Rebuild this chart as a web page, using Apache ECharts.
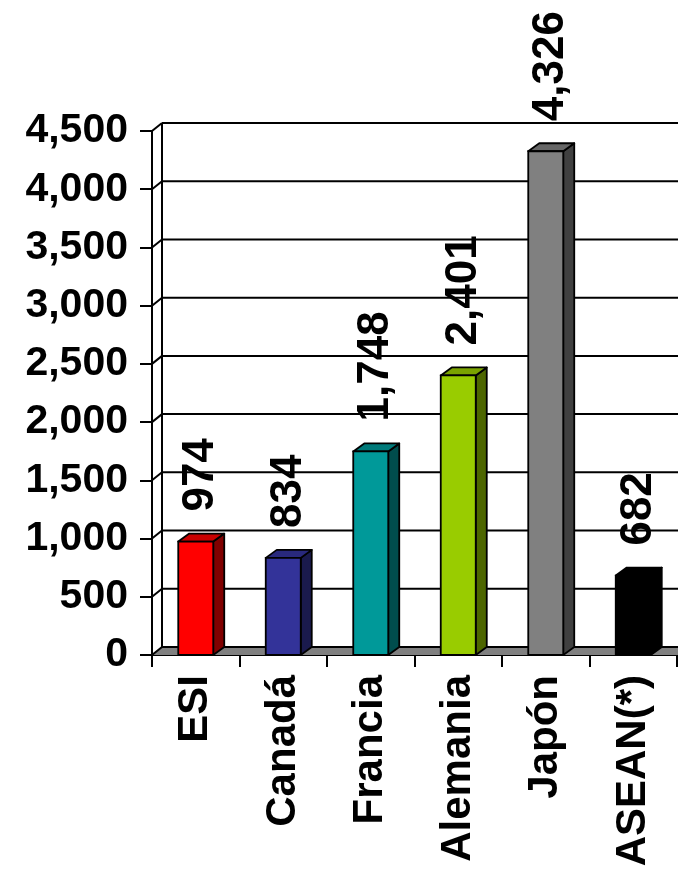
<!DOCTYPE html>
<html>
<head>
<meta charset="utf-8">
<script src="https://cdn.jsdelivr.net/npm/echarts@6/dist/echarts.min.js"></script>
<style>
html,body{margin:0;padding:0;background:#fff;}
#chart{width:678px;height:875px;}
</style>
</head>
<body>
<div id="chart"></div>
<script>
// ---- data ----
const categories = ['ESI', 'Canadá', 'Francia', 'Alemania', 'Japón', 'ASEAN(*)'];
const values = [974, 834, 1748, 2401, 4326, 682];
const yTicks = [0, 500, 1000, 1500, 2000, 2500, 3000, 3500, 4000, 4500];

// ---- style ----
const frontColors = ['#FF0000', '#333399', '#009999', '#99CC00', '#808080', '#000000'];
const topColors   = ['#C80000', '#29297D', '#007A7A', '#7AA300', '#666666', '#000000'];
const sideColors  = ['#800000', '#1A1A4D', '#004D4D', '#4D6600', '#404040', '#000000'];
const FONT = '"Liberation Sans", Arial, Helvetica, sans-serif';
const DX = 10, DY = 8;
const LW = 2;

function fmt(v) { return String(v).replace(/\B(?=(\d{3})+(?!\d))/g, ','); }

const chart = echarts.init(document.getElementById('chart'), null, {renderer: 'canvas'});

const option = {
  backgroundColor: '#ffffff',
  animation: false,
  grid: {left: 152, top: 131, width: 525, height: 524, containLabel: false},
  xAxis: {
    type: 'category',
    data: categories,
    boundaryGap: true,
    axisLine: {show: true, lineStyle: {color: '#000', width: 2}},
    axisTick: {show: true, length: 12, interval: 0, lineStyle: {color: '#000', width: 2}},
    axisLabel: {
      interval: 0, rotate: 90, margin: 20,
      color: '#000', fontSize: 42, fontWeight: 'bold', fontFamily: FONT
    },
    splitLine: {show: false}
  },
  yAxis: {
    type: 'value', min: 0, max: 4500, interval: 500,
    axisLine: {show: true, lineStyle: {color: '#000', width: 2}},
    axisTick: {show: true, length: 12, lineStyle: {color: '#000', width: 2}},
    axisLabel: {
      margin: 24, color: '#000', fontSize: 41, fontWeight: 'bold', fontFamily: FONT,
      formatter: function (v) { return fmt(v); }
    },
    splitLine: {show: false}
  },
  series: [
    {
      // 3D frame: back wall gridlines, side connectors, floor
      type: 'custom',
      z: 1,
      silent: true,
      data: yTicks.map(function (v) { return [0, v]; }),
      renderItem: function (params, api) {
        const v = api.value(1);
        const p = api.coord([0, v]);
        const band = api.size([1, 0])[0];
        const x0 = p[0] - band / 2;
        const y = p[1];
        const xR = api.getWidth();
        const children = [];
        if (v === 0) {
          children.push({
            type: 'polygon',
            shape: {points: [[x0, y], [x0 + DX, y - DY], [xR, y - DY], [xR, y]]},
            style: {fill: '#808080', stroke: null}
          });
          children.push({
            type: 'line',
            shape: {x1: x0 + DX, y1: y - DY, x2: xR, y2: y - DY},
            style: {stroke: '#000', lineWidth: LW}
          });
          const yTop = api.coord([0, yTicks[yTicks.length - 1]])[1];
          children.push({
            type: 'line',
            shape: {x1: x0 + DX, y1: yTop - DY, x2: x0 + DX, y2: y - DY},
            style: {stroke: '#000', lineWidth: LW}
          });
          children.push({
            type: 'line',
            shape: {x1: x0, y1: y, x2: x0 + DX, y2: y - DY},
            style: {stroke: '#000', lineWidth: LW}
          });
        } else {
          children.push({
            type: 'line',
            shape: {x1: x0, y1: y, x2: x0 + DX, y2: y - DY},
            style: {stroke: '#000', lineWidth: LW}
          });
          children.push({
            type: 'line',
            shape: {x1: x0 + DX, y1: y - DY, x2: xR, y2: y - DY},
            style: {stroke: '#000', lineWidth: LW}
          });
        }
        return {type: 'group', children: children};
      }
    },
    {
      // 3D bars
      type: 'custom',
      z: 3,
      data: values.map(function (v, i) { return [i, v]; }),
      renderItem: function (params, api) {
        const i = api.value(0);
        const v = api.value(1);
        const top = api.coord([i, v]);
        const base = api.coord([i, 0]);
        const band = api.size([1, 0])[0];
        const w = band * 0.4;
        const xL = top[0] - w / 2;
        const xRr = xL + w;
        const yT = top[1], yB = base[1];
        const dx = 11;
        return {
          type: 'group',
          children: [
            {type: 'polygon', shape: {points: [[xRr, yT], [xRr + dx, yT - DY], [xRr + dx, yB - DY], [xRr, yB]]},
             style: {fill: sideColors[i], stroke: '#000', lineWidth: 1.8, lineJoin: 'round'}},
            {type: 'polygon', shape: {points: [[xL, yT], [xL + dx, yT - DY], [xRr + dx, yT - DY], [xRr, yT]]},
             style: {fill: topColors[i], stroke: '#000', lineWidth: 1.8, lineJoin: 'round'}},
            {type: 'rect', shape: {x: xL, y: yT, width: w, height: yB - yT},
             style: {fill: frontColors[i], stroke: '#000', lineWidth: 1.8}},
            {type: 'text', x: top[0] + 5.5, y: yT - 30, rotation: Math.PI / 2,
             style: {text: fmt(v), fill: '#000', fontSize: 44, fontWeight: 'bold', fontFamily: FONT,
                     align: 'left', verticalAlign: 'middle'}}
          ]
        };
      }
    }
  ]
};
chart.setOption(option);
</script>
</body>
</html>
